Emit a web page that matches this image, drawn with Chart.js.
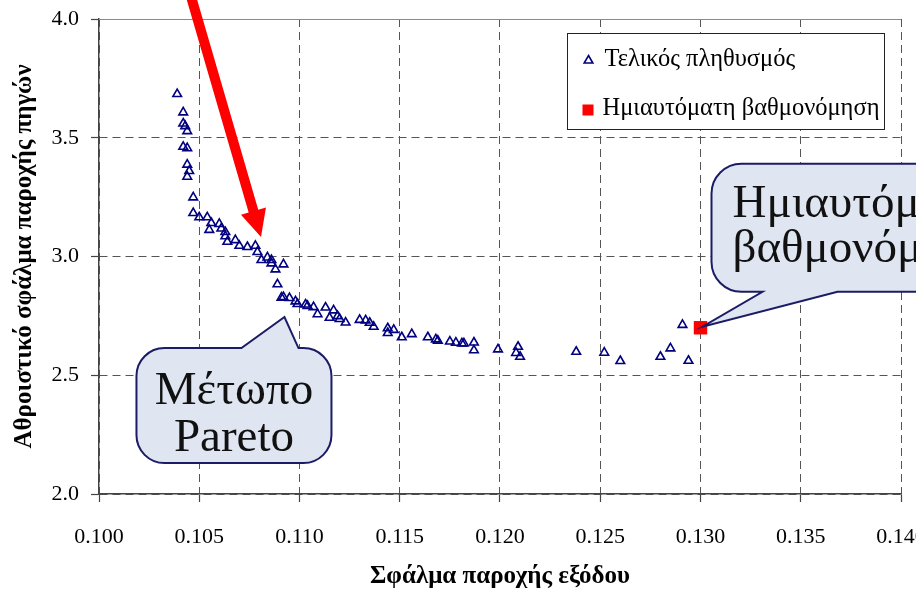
<!DOCTYPE html>
<html>
<head>
<meta charset="utf-8">
<script src="https://cdn.jsdelivr.net/npm/chart.js@4/dist/chart.umd.min.js"></script>
<style>
  html, body { margin: 0; padding: 0; background: #fff; overflow: hidden; }
  canvas { display: block; }
</style>
</head>
<body>
<canvas id="chart" width="916" height="592"></canvas>
<script>
// Final population: output supply error (x) vs cumulative source supply error (y)
const populationX = [
  0.1039, 0.1042, 0.1042, 0.1043, 0.1044, 0.1042, 0.1044, 0.1044, 0.1045, 0.1044,
  0.1047, 0.1047, 0.1050, 0.1054, 0.1056, 0.1055, 0.1060, 0.1061, 0.1063, 0.1063,
  0.1064, 0.1068, 0.1070, 0.1074, 0.1078, 0.1079, 0.1081, 0.1084, 0.1086, 0.1086,
  0.1088, 0.1092, 0.1089, 0.1091, 0.1092, 0.1095, 0.1098, 0.1099, 0.1103, 0.1104,
  0.1107, 0.1109, 0.1113, 0.1115, 0.1117, 0.1119, 0.1120, 0.1123, 0.1130, 0.1133,
  0.1135, 0.1137, 0.1144, 0.1144, 0.1147, 0.1151, 0.1156, 0.1164, 0.1168, 0.1169,
  0.1175, 0.1178, 0.1181, 0.1182, 0.1187, 0.1187, 0.1199, 0.1209, 0.1208, 0.1210,
  0.1238, 0.1252, 0.1260, 0.1280, 0.1285, 0.1291, 0.1294
];
const populationY = [
  3.684, 3.607, 3.560, 3.549, 3.528, 3.462, 3.456, 3.387, 3.360, 3.336,
  3.249, 3.183, 3.165, 3.165, 3.141, 3.112, 3.137, 3.118, 3.103, 3.085,
  3.062, 3.069, 3.045, 3.040, 3.045, 3.019, 2.985, 2.996, 2.985, 2.971,
  2.946, 2.967, 2.883, 2.827, 2.829, 2.825, 2.811, 2.800, 2.798, 2.792,
  2.787, 2.757, 2.785, 2.742, 2.773, 2.749, 2.737, 2.722, 2.733, 2.731,
  2.721, 2.704, 2.698, 2.678, 2.691, 2.660, 2.673, 2.660, 2.651, 2.646,
  2.642, 2.637, 2.634, 2.634, 2.638, 2.605, 2.609, 2.620, 2.594, 2.578,
  2.599, 2.595, 2.560, 2.578, 2.613, 2.712, 2.561
];

// Semi-automatic calibration result
const manualX = [0.130];
const manualY = [2.70];

const seriesNames = ['Τελικός πληθυσμός', 'Ημιαυτόματη βαθμονόμηση'];
const xTickValues = [0.100, 0.105, 0.110, 0.115, 0.120, 0.125, 0.130, 0.135, 0.140];
const yTickValues = [2.0, 2.5, 3.0, 3.5, 4.0];
const xTitle = 'Σφάλμα παροχής εξόδου';
const yTitle = 'Αθροιστικό σφάλμα παροχής πηγών';
const paretoNote = ['Μέτωπο', 'Pareto'];
const manualNote = ['Ημιαυτόματη', 'βαθμονόμηση'];

// Where the callouts and the red arrow point, in data units
const paretoTip = { x: 0.10925, y: 2.745 };
const arrowTip = { x: 0.10808, y: 3.082 };

const NAVY = '#000080';
const RED = '#ff0000';
const SERIF = '"Liberation Serif", "Times New Roman", serif';

function calloutPath(ctx, l, t, r, b, rad, edge, base1, base2, tip) {
  ctx.beginPath();
  ctx.moveTo(l + rad, t);
  if (edge === 'top') {
    ctx.lineTo(base1, t);
    ctx.lineTo(tip.x, tip.y);
    ctx.lineTo(base2, t);
  }
  ctx.lineTo(r - rad, t);
  ctx.arcTo(r, t, r, t + rad, rad);
  ctx.lineTo(r, b - rad);
  ctx.arcTo(r, b, r - rad, b, rad);
  if (edge === 'bottom') {
    ctx.lineTo(base2, b);
    ctx.lineTo(tip.x, tip.y);
    ctx.lineTo(base1, b);
  }
  ctx.lineTo(l + rad, b);
  ctx.arcTo(l, b, l, b - rad, rad);
  ctx.lineTo(l, t + rad);
  ctx.arcTo(l, t, l + rad, t, rad);
  ctx.closePath();
}

function drawCallout(ctx, shape) {
  ctx.save();
  calloutPath(ctx, shape.l, shape.t, shape.r, shape.b, shape.rad, shape.edge, shape.base1, shape.base2, shape.tip);
  ctx.fillStyle = '#dfe5f1';
  ctx.fill();
  ctx.lineWidth = 2;
  ctx.strokeStyle = '#1c1c66';
  ctx.lineJoin = 'miter';
  ctx.stroke();
  ctx.restore();
}

function drawTriangle(ctx, x, y, r) {
  ctx.beginPath();
  ctx.moveTo(x, y - r);
  ctx.lineTo(x + r * Math.sin(2 * Math.PI / 3), y + r / 2);
  ctx.lineTo(x - r * Math.sin(2 * Math.PI / 3), y + r / 2);
  ctx.closePath();
}

const notesPlugin = {
  id: 'notes',
  afterDraw(chart) {
    const { ctx, chartArea: area, scales } = chart;
    const xs = scales.x, ys = scales.y;

    // solid top edge of the plot area
    ctx.save();
    ctx.strokeStyle = '#8a8a8a';
    ctx.lineWidth = 1;
    ctx.beginPath();
    ctx.moveTo(area.left, area.top + 0.5);
    ctx.lineTo(area.right, area.top + 0.5);
    ctx.stroke();
    ctx.restore();

    // red arrow pointing at the knee of the front
    const tx = xs.getPixelForValue(arrowTip.x);
    const ty = ys.getPixelForValue(arrowTip.y);
    const dx = 69, dy = 237;
    const len = Math.hypot(dx, dy);
    const ux = dx / len, uy = dy / len;
    const headLen = 27, headHalf = 13, shaftHalf = 5;
    const bx = tx - ux * headLen, by = ty - uy * headLen;
    const sx = tx - ux * 280, sy = ty - uy * 280;
    ctx.save();
    ctx.fillStyle = RED;
    ctx.beginPath();
    ctx.moveTo(sx - uy * shaftHalf, sy + ux * shaftHalf);
    ctx.lineTo(bx - uy * shaftHalf, by + ux * shaftHalf);
    ctx.lineTo(bx - uy * headHalf, by + ux * headHalf);
    ctx.lineTo(tx, ty);
    ctx.lineTo(bx + uy * headHalf, by - ux * headHalf);
    ctx.lineTo(bx + uy * shaftHalf, by - ux * shaftHalf);
    ctx.lineTo(sx + uy * shaftHalf, sy - ux * shaftHalf);
    ctx.closePath();
    ctx.fill();
    ctx.restore();

    // "Pareto front" callout
    const pt = { x: xs.getPixelForValue(paretoTip.x), y: ys.getPixelForValue(paretoTip.y) };
    const pBox = { l: pt.x - 148, t: pt.y + 31, r: pt.x + 47, b: pt.y + 146, rad: 28,
                   edge: 'top', base1: pt.x - 43, base2: pt.x + 14, tip: pt };
    drawCallout(ctx, pBox);
    ctx.save();
    ctx.fillStyle = '#111';
    ctx.font = '47px ' + SERIF;
    ctx.textAlign = 'center';
    ctx.textBaseline = 'alphabetic';
    const pcx = (pBox.l + pBox.r) / 2;
    ctx.fillText(paretoNote[0], pcx, pBox.t + 56);
    ctx.fillText(paretoNote[1], pcx, pBox.t + 103);
    ctx.restore();

    // semi-automatic calibration callout
    const mt = { x: xs.getPixelForValue(manualX[0]) + 2, y: ys.getPixelForValue(manualY[0]) - 1 };
    const mBox = { l: mt.x + 9, t: mt.y - 163, r: mt.x + 300, b: mt.y - 35, rad: 30,
                   edge: 'bottom', base1: mt.x + 60, base2: mt.x + 135, tip: mt };
    drawCallout(ctx, mBox);
    ctx.save();
    ctx.fillStyle = '#111';
    ctx.font = '47px ' + SERIF;
    ctx.textAlign = 'left';
    ctx.textBaseline = 'alphabetic';
    ctx.fillText(manualNote[0], mBox.l + 21, mBox.t + 53);
    ctx.fillText(manualNote[1], mBox.l + 21, mBox.t + 98);
    ctx.restore();

    // legend box
    const lg = { l: 567.5, t: 33.5, r: 884.5, b: 129.5 };
    ctx.save();
    ctx.fillStyle = '#fff';
    ctx.fillRect(lg.l, lg.t, lg.r - lg.l, lg.b - lg.t);
    ctx.strokeStyle = '#222';
    ctx.lineWidth = 1;
    ctx.strokeRect(lg.l, lg.t, lg.r - lg.l, lg.b - lg.t);

    ctx.strokeStyle = NAVY;
    ctx.lineWidth = 1.6;
    drawTriangle(ctx, lg.l + 21, lg.t + 27, 5);
    ctx.stroke();
    ctx.fillStyle = RED;
    ctx.fillRect(lg.l + 15, lg.t + 71, 11, 11);

    ctx.fillStyle = '#000';
    ctx.font = '24.5px ' + SERIF;
    ctx.textAlign = 'left';
    ctx.textBaseline = 'middle';
    ctx.fillText(seriesNames[0], lg.l + 37, lg.t + 26);
    ctx.fillText(seriesNames[1], lg.l + 35, lg.t + 75);
    ctx.restore();
  }
};

const tickFont = { family: SERIF, size: 22 };
const titleFont = { family: SERIF, size: 25, weight: 'bold' };

new Chart(document.getElementById('chart'), {
  type: 'scatter',
  data: {
    datasets: [
      {
        label: seriesNames[0],
        data: populationX.map((x, i) => ({ x, y: populationY[i] })),
        pointStyle: 'triangle',
        pointRadius: 5,
        borderColor: NAVY,
        backgroundColor: 'rgba(0,0,0,0)',
        borderWidth: 1.6
      },
      {
        label: seriesNames[1],
        data: manualX.map((x, i) => ({ x, y: manualY[i] })),
        pointStyle: 'rect',
        pointRadius: 9.5,
        borderColor: RED,
        backgroundColor: RED,
        borderWidth: 0
      }
    ]
  },
  options: {
    responsive: false,
    animation: false,
    events: [],
    layout: { padding: { left: 0, right: 15, top: 19, bottom: 0 } },
    plugins: { legend: { display: false }, tooltip: { enabled: false } },
    scales: {
      x: {
        type: 'linear',
        min: xTickValues[0],
        max: xTickValues[xTickValues.length - 1],
        afterBuildTicks: s => { s.ticks = xTickValues.map(v => ({ value: v })); },
        afterFit: s => { s.height = 98; s.paddingLeft = 0; s.paddingRight = 0; },
        ticks: {
          callback: v => Number(v).toFixed(3),
          font: tickFont, color: '#000', padding: 22, maxRotation: 0, autoSkip: false
        },
        grid: { color: '#555', lineWidth: 1, tickLength: 8, tickColor: '#444', tickWidth: 1.2 },
        border: { display: true, color: '#444', width: 1.5, dash: [8, 5] },
        title: { display: true, text: xTitle, font: titleFont, color: '#000', padding: { top: 0, bottom: 0 } }
      },
      y: {
        type: 'linear',
        min: yTickValues[0],
        max: yTickValues[yTickValues.length - 1],
        afterBuildTicks: s => { s.ticks = yTickValues.map(v => ({ value: v })); },
        afterFit: s => { s.width = 99; s.paddingTop = 0; s.paddingBottom = 0; },
        ticks: {
          callback: v => Number(v).toFixed(1),
          font: tickFont, color: '#000', padding: 12, autoSkip: false
        },
        grid: { color: '#555', lineWidth: 1, tickLength: 8, tickColor: '#444', tickWidth: 1.2 },
        border: { display: true, color: '#444', width: 1.5, dash: [8, 5] },
        title: { display: true, text: yTitle, font: titleFont, color: '#000', padding: { top: 10, bottom: 0 } }
      }
    }
  },
  plugins: [notesPlugin]
});
</script>
</body>
</html>
